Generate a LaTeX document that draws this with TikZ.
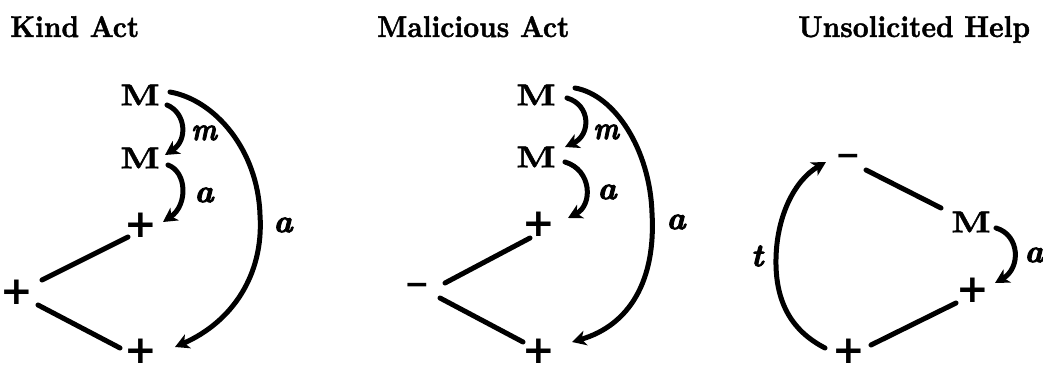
\documentclass[tikz,border=0pt]{standalone}
\usepackage{fontspec}
\usetikzlibrary{arrows.meta}
\newfontfamily\signfont{DejaVu Sans}
\newfontfamily\heavyfont{lmroman10-bold}[Extension=.otf, FakeBold=1.5]
\newfontfamily\heavyitfont{lmroman10-bolditalic}[Extension=.otf, FakeBold=3]
\tikzset{
  ttl/.style={anchor=base west, inner sep=0pt, font=\heavyfont\fontsize{30}{30}\selectfont},
  mnode/.style={inner sep=0pt, font=\heavyfont\fontsize{30}{30}\selectfont},
  plusnode/.style={inner sep=0pt, font=\signfont\fontsize{39}{39}\selectfont\bfseries},
  minusnode/.style={inner sep=0pt, font=\signfont\fontsize{30}{30}\selectfont\bfseries},
  lab/.style={inner sep=0pt, font=\heavyitfont\fontsize{32}{32}\selectfont},
  conn/.style={line width=5pt, line cap=round, line join=round},
  arr/.style={conn, -{Stealth[length=14pt,width=15pt,inset=4pt]}}
}
\begin{document}
\begin{tikzpicture}[x=1pt,y=-1pt]
\fill[white] (0,0) rectangle (1043,371);
\useasboundingbox (0,0) rectangle (1043,371);

% ---------- Panel 1: Kind Act ----------
\node[ttl] (T1) at (10,37) {\scalebox{0.92}[1]{Kind Act}};
\node[mnode] (M1a) at (140,95) {\scalebox{1.2}[1]{M}};
\node[mnode] (M1b) at (140,158) {\scalebox{1.2}[1]{M}};
\node[plusnode] (P1a) at (141,225) {+};
\node[plusnode] (P1b) at (17,292) {+};
\node[plusnode] (P1c) at (141,351) {+};
\node[lab] (lm1) at (204,133) {\scalebox{0.85}[1]{m}};
\node[lab] (la1) at (204,195) {a};
\node[lab] (lA1) at (283,225) {a};

\draw[conn] ([shift={(-13,12)}]P1a.center) -- ([shift={(25,-12)}]P1b.center);
\draw[conn] ([shift={(21,13)}]P1b.center) -- ([shift={(-21,-3)}]P1c.center);
\draw[arr] ([shift={(27,10)}]M1a.center) .. controls +(19,8) and +(23,-15) .. ([shift={(25,-3)}]M1b.center);
\draw[arr] ([shift={(28,7)}]M1b.center) .. controls +(19,7) and +(25,-17) .. ([shift={(22,-3)}]P1a.center);
\draw[arr] ([shift={(30,-3)}]M1a.center) .. controls +(45,8) and +(-2,-65) .. (260,215)
  .. controls +(4,60) and +(57,-25) .. ([shift={(34,-4)}]P1c.center);

% ---------- Panel 2: Malicious Act ----------
\node[ttl] (T2) at (377,37) {\scalebox{0.92}[1]{Malicious Act}};
\node[mnode] (M2a) at (536,95) {\scalebox{1.2}[1]{M}};
\node[mnode] (M2b) at (536,157) {\scalebox{1.2}[1]{M}};
\node[plusnode] (P2a) at (539,224) {+};
\node[minusnode] (N2) at (417,289) {−};
\node[plusnode] (P2c) at (539,351) {+};
\node[lab] (lm2) at (606,132) {\scalebox{0.85}[1]{m}};
\node[lab] (la2) at (607,192) {a};
\node[lab] (lA2) at (676,222) {a};

\draw[conn] ([shift={(-9,14)}]P2a.center) -- ([shift={(28,-6)}]N2.center);
\draw[conn] ([shift={(23,9)}]N2.center) -- ([shift={(-16,-9)}]P2c.center);
\draw[arr] ([shift={(31,3)}]M2a.center) .. controls +(24,7) and +(26,-12) .. ([shift={(29,-10)}]M2b.center);
\draw[arr] ([shift={(29,5)}]M2b.center) .. controls +(27,8) and +(25,-13) .. ([shift={(29,-6)}]P2a.center);
\draw[arr] ([shift={(39,-7)}]M2a.center) .. controls +(40,7) and +(-2,-63) .. (652,213)
  .. controls +(4,67) and +(58,-17) .. ([shift={(33,-9)}]P2c.center);

% ---------- Panel 3: Unsolicited Help ----------
\node[ttl] (T3) at (798,37) {\scalebox{0.92}[1]{Unsolicited Help}};
\node[minusnode] (N3) at (848,160) {−};
\node[mnode] (M3) at (971,222) {\scalebox{1.2}[1]{M}};
\node[plusnode] (P3a) at (973,290) {+};
\node[plusnode] (P3b) at (849,351) {+};
\node[lab] (la3) at (1034,255) {a};
\node[lab] (lt3) at (757,256) {t};

\draw[conn] ([shift={(18,10)}]N3.center) -- ([shift={(-30,-14)}]M3.center);
\draw[conn] ([shift={(-17,13)}]P3a.center) -- ([shift={(22,-6)}]P3b.center);
\draw[arr] ([shift={(25,6)}]M3.center) .. controls +(24,7) and +(26,-15) .. ([shift={(22,-7)}]P3a.center);
\draw[arr] ([shift={(-24,-3)}]P3b.center) .. controls +(-35,-18) and +(-1,42) .. (776,258)
  .. controls +(1,-43) and +(-31,18) .. ([shift={(-22,2)}]N3.center);
\end{tikzpicture}
\end{document}
